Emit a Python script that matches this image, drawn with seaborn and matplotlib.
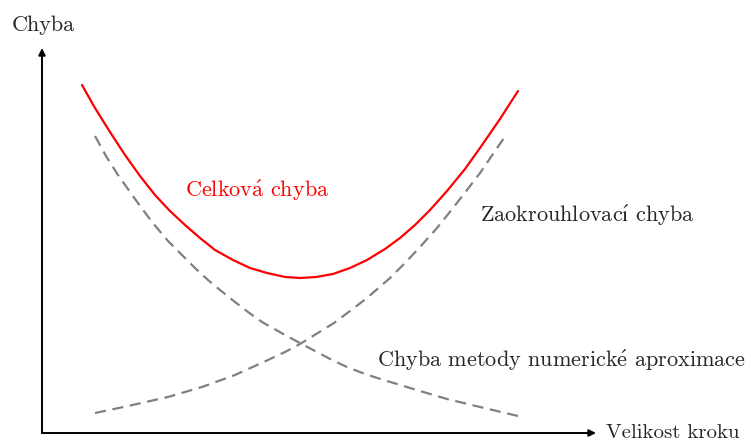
import matplotlib
matplotlib.use("Agg")
import matplotlib.pyplot as plt
import seaborn as sns

# Hodnoty (libovolné jednotky)
krok_metoda = [1.06, 1.28, 1.52, 1.86, 2.20, 2.52, 2.86, 3.08, 3.32, 3.56, 3.86, 4.12,
               4.40, 4.86, 5.16, 5.46, 5.80, 6.10, 6.46, 6.80, 7.10, 7.56, 8.10, 8.76, 9.52]
chyba_metoda = [5.94, 5.54, 5.16, 4.68, 4.22, 3.84, 3.50, 3.28, 3.06, 2.86, 2.62, 2.42,
                2.22, 1.96, 1.80, 1.64, 1.46, 1.32, 1.18, 1.07, 0.98, 0.84, 0.68, 0.52, 0.34]

krok_zaokr = [1.06, 1.72, 2.52, 3.20, 3.86, 4.52, 4.86, 5.16, 5.84, 6.16, 6.50, 6.96,
              7.26, 7.56, 7.90, 8.22, 8.50, 8.76, 9.02, 9.28]
chyba_zaokr = [0.40, 0.54, 0.72, 0.92, 1.16, 1.46, 1.62, 1.78, 2.20, 2.44, 2.70, 3.10,
               3.40, 3.72, 4.10, 4.50, 4.86, 5.20, 5.58, 5.96]

krok_celk = [0.80, 1.06, 1.36, 1.66, 1.96, 2.26, 2.56, 2.86, 3.16, 3.46, 3.82, 4.16, 4.50,
             4.86, 5.16, 5.48, 5.82, 6.16, 6.50, 6.86, 7.16, 7.46, 7.76, 8.10, 8.46,
             8.76, 9.16, 9.52]
chyba_celk = [6.96, 6.50, 6.02, 5.56, 5.14, 4.76, 4.44, 4.16, 3.90, 3.66, 3.46, 3.30, 3.20,
              3.12, 3.10, 3.12, 3.18, 3.30, 3.46, 3.68, 3.90, 4.16, 4.46, 4.84, 5.28,
              5.70, 6.28, 6.84]

sns.set_style("white")
plt.rcParams['font.family'] = ['cmr10', 'DejaVu Serif']
plt.rcParams['mathtext.fontset'] = 'cm'

fig = plt.figure(figsize=(7.51, 4.41), dpi=100)
ax = fig.add_axes([42 / 751, 8 / 441, 554 / 751, 385 / 441])
ax.set_xlim(0, 11.08)
ax.set_ylim(0, 7.7)
ax.axis('off')

sns.lineplot(x=krok_metoda, y=chyba_metoda, ax=ax, color='#808080', lw=1.6,
             linestyle=(0, (5, 3)))
sns.lineplot(x=krok_zaokr, y=chyba_zaokr, ax=ax, color='#808080', lw=1.6,
             linestyle=(0, (5, 3)))
sns.lineplot(x=krok_celk, y=chyba_celk, ax=ax, color='red', lw=1.6)

# osy se šipkami
arrow = dict(arrowstyle='-|>', color='black', lw=1.4, mutation_scale=10,
             shrinkA=0, shrinkB=0)
ax.annotate('', xy=(1, 0), xytext=(0, 0), xycoords='axes fraction', arrowprops=arrow)
ax.annotate('', xy=(0, 1), xytext=(0, 0), xycoords='axes fraction', arrowprops=arrow)

fs = 16
ax.text(0.02, 8.16, 'Chyba', ha='center', va='center', fontsize=fs, clip_on=False)
ax.text(11.28, 0, 'Velikost kroku', ha='left', va='center', fontsize=15, clip_on=False)
ax.text(2.86, 4.86, r'Celkov$\mathrm{\acute{a}}$ chyba', ha='left', va='center',
        fontsize=fs, color='red')
ax.text(8.76, 4.36, r'Zaokrouhlovac$\mathrm{\acute{ı}}$ chyba', ha='left',
        va='center', fontsize=fs, clip_on=False)
ax.text(6.7, 1.46, r'Chyba metody numerick$\mathrm{\acute{e}}$ aproximace', ha='left',
        va='center', fontsize=fs, clip_on=False)

fig.savefig('out.png', dpi=100)
